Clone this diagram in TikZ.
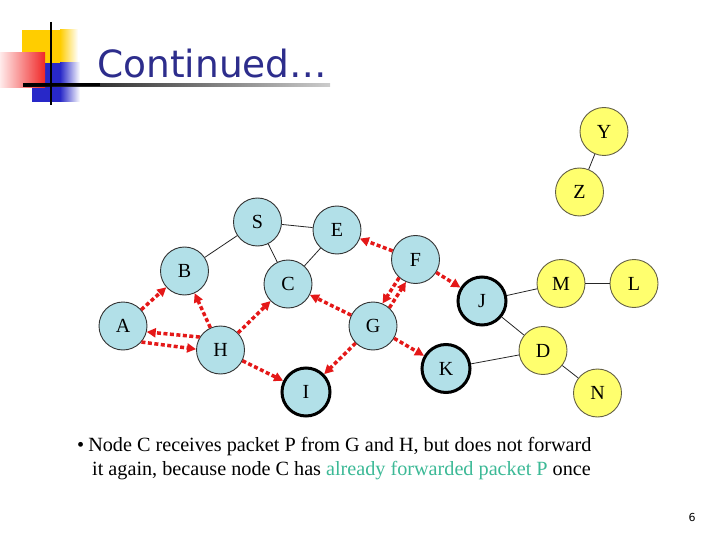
\documentclass[tikz,border=0pt]{standalone}
\usepackage{fontspec}
\setmainfont{Liberation Serif}
\newfontfamily\titlefont{DejaVu Sans}
\usetikzlibrary{arrows.meta}
\definecolor{nodeblue}{RGB}{178,224,232}
\definecolor{nodeyellow}{RGB}{255,255,110}
\definecolor{titleblue}{RGB}{45,45,140}
\definecolor{arrred}{RGB}{228,24,24}
\definecolor{textgreen}{RGB}{60,185,150}
\definecolor{decoyellow}{RGB}{255,205,0}
\definecolor{decored}{RGB}{240,40,40}
\definecolor{decoblue}{RGB}{40,40,200}
\begin{document}
\begin{tikzpicture}[x=1pt,y=-1pt,
  netnode/.style={circle,minimum size=48pt,inner sep=0pt,draw=black!80,line width=0.9pt,font=\fontsize{20}{20}\selectfont},
  bluenode/.style={netnode,fill=nodeblue},
  yellownode/.style={netnode,fill=nodeyellow,draw=black!70!yellow},
  boldnode/.style={line width=3pt,draw=black},
  link/.style={draw=black!85,line width=0.8pt},
  redarr/.style={draw=arrred,line width=3.5pt,dash pattern=on 4pt off 2.5pt,
    -{Triangle[length=9pt,width=9pt,fill=arrred]}},
  bodytext/.style={anchor=base west,inner sep=0pt,font=\fontsize{20.2}{20}\selectfont}
]
\useasboundingbox (0,0) rectangle (720,540);
% title decoration
\fill[decoyellow] (22,30) rectangle (60,70);
\shade[left color=decoyellow,right color=white] (60,30) rectangle (78,70);
\fill[decoblue] (32,63) rectangle (60,102);
\shade[left color=decoblue,right color=white] (60,63) rectangle (80,102);
\shade[left color=red!8,right color=decored] (0,53) rectangle (45,88);
\shade[left color=black,right color=black!20] (23,83.5) rectangle (330,86.5);
\fill[black] (23,83.5) rectangle (100,86.5);
\draw[black,line width=2.5pt] (51,22) -- (51,105);
\node[anchor=base west,inner sep=0pt,text=titleblue,font=\titlefont\fontsize{37.5}{37.5}\selectfont] (title) at (97,78) {Continued…};
% nodes
\node[bluenode] (S) at (257.5,222) {S};
\node[bluenode] (E) at (337,230) {E};
\node[bluenode] (B) at (184.5,271) {B};
\node[bluenode] (C) at (288,284) {C};
\node[bluenode] (F) at (415.5,259.5) {F};
\node[bluenode] (A) at (123,326) {A};
\node[bluenode] (H) at (220.5,350) {H};
\node[bluenode] (G) at (373,326) {G};
\node[bluenode,boldnode] (J) at (482,301) {J};
\node[bluenode,boldnode] (K) at (446,368.5) {K};
\node[bluenode,boldnode] (I) at (306,392) {I};
\node[yellownode] (Y) at (604,131.5) {Y};
\node[yellownode] (Z) at (579.5,192) {Z};
\node[yellownode] (M) at (561,283.5) {M};
\node[yellownode] (L) at (634,283.5) {L};
\node[yellownode] (D) at (543,350.5) {D};
\node[yellownode] (N) at (597.5,393) {N};
% links
\draw[link] (S) -- (B);
\draw[link] (S) -- (E);
\draw[link] (S) -- (C);
\draw[link] (E) -- (C);
\draw[link] (J) -- (M);
\draw[link] (M) -- (L);
\draw[link] (J) -- (D);
\draw[link] (K) -- (D);
\draw[link] (D) -- (N);
\draw[link] (Y) -- (Z);
% packet arrows
\draw[redarr] (A) -- (B);
\draw[redarr] (H) -- (B);
\draw[redarr] (H.148) -- (A.-14);
\draw[redarr] (A.-41) -- (H.178);
\draw[redarr] (H) -- (C);
\draw[redarr] (H) -- (I);
\draw[redarr] (G) -- (C);
\draw[redarr] (G) -- (I);
\draw[redarr] (F.228) -- (G.67);
\draw[redarr] (G.48) -- (F.247);
\draw[redarr] (F) -- (E);
\draw[redarr] (F) -- (J);
\draw[redarr] (G) -- (K);
% text
\node[bodytext] (line1) at (77,451) {•\hspace{4pt}Node C receives packet P from G and H, but does not forward};
\node[bodytext] (line2) at (92,475) {it again, because node C has \textcolor{textgreen}{already forwarded packet P} once};
\node[anchor=base,inner sep=0pt,font=\titlefont\fontsize{11}{11}\selectfont] (pagenum) at (692,521) {6};
\end{tikzpicture}
\end{document}
